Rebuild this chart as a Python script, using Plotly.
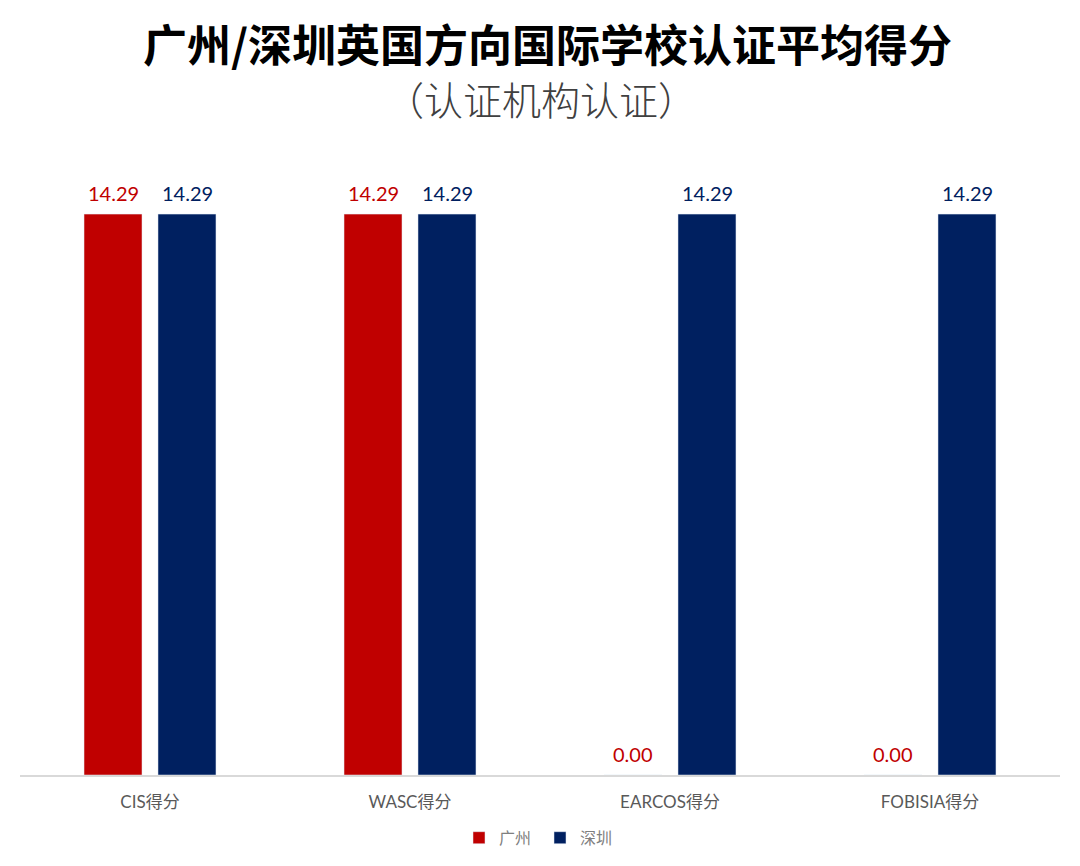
import plotly.graph_objects as go

categories = ["CIS得分", "WASC得分", "EARCOS得分", "FOBISIA得分"]
guangzhou = [14.29, 14.29, 0.00, 0.00]
shenzhen = [14.29, 14.29, 14.29, 14.29]
series_names = ["广州", "深圳"]
colors = ["#C00000", "#002060"]

FONT = "Lato, 'Noto Sans CJK SC', sans-serif"
CJK = "'Noto Sans CJK SC', sans-serif"

fig = go.Figure()
for name, vals, col in zip(series_names, [guangzhou, shenzhen], colors):
    fig.add_trace(go.Bar(
        x=categories, y=vals, name=name, marker_color=col,
    ))

# value labels above each bar (grouped offset)
annotations = []
for i, (vals, col) in enumerate(zip([guangzhou, shenzhen], colors)):
    shift = -37 if i == 0 else 37
    for c, v in zip(categories, vals):
        annotations.append(dict(
            x=c, y=v, xref="x", yref="y", text=f"{v:.2f}", showarrow=False,
            xshift=shift, yshift=21, yanchor="middle",
            font=dict(size=20, color=col, family=FONT)))

annotations += [
    dict(text="<b>广州/深圳英国方向国际学校认证平均得分</b>", xref="paper", yref="paper",
         x=0.5, y=1, xanchor="center", yanchor="middle", yshift=104, xshift=7,
         showarrow=False, font=dict(size=44, color="#000000", family=CJK)),
    dict(text="（认证机构认证）", xref="paper", yref="paper",
         x=0.5, y=1, xanchor="center", yanchor="middle", yshift=49, xshift=1,
         showarrow=False, font=dict(size=39, color="#404040", family=CJK, weight=300)),
]

fig.update_layout(
    width=1080, height=866,
    paper_bgcolor="white", plot_bgcolor="white",
    margin=dict(l=12, r=28, t=139, b=99),
    barmode="group", bargap=0.431, bargroupgap=0.216,
    showlegend=True,
    legend=dict(orientation="h", x=0.5, xanchor="center", y=-0.1, yanchor="middle",
                font=dict(size=16, color="#7F7F7F", family=CJK),
                entrywidth=36, entrywidthmode="pixels",
                traceorder="normal"),
    xaxis=dict(showline=True, linecolor="#D9D9D9", linewidth=2, ticks="",
               ticklabelstandoff=11,
               tickfont=dict(size=17, color="#595959", family=FONT), showgrid=False),
    yaxis=dict(range=[0, 16], visible=False, showgrid=False, zeroline=False),
    font=dict(family=FONT),
    annotations=annotations,
)

fig.write_html("out.html")
